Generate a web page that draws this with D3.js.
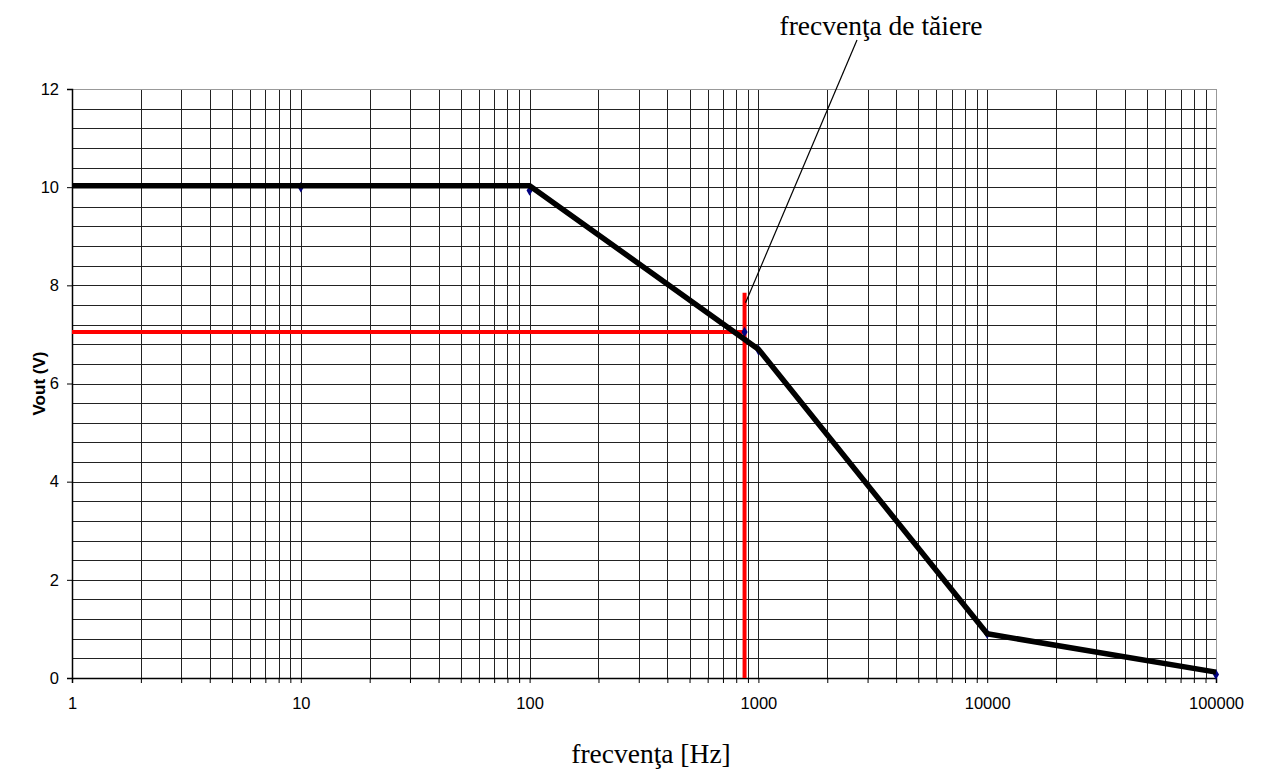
<!DOCTYPE html>
<html>
<head>
<meta charset="utf-8">
<script src="https://cdn.jsdelivr.net/npm/d3@7"></script>
<style>
  body { margin: 0; background: #fff; }
  svg { display: block; }
</style>
</head>
<body>
<div id="chart"></div>
<script>
// measured points (blue diamonds)
const pointFreq = [10, 100, 870, 1000, 10000, 100000];
const pointVout = [10.0, 9.93, 7.05, 6.68, 0.9, 0.07];

// thick black trend line
const lineFreq = [1, 100, 1000, 10000, 100000];
const lineVout = [10.03, 10.03, 6.7, 0.9, 0.12];

// cutoff marker
const cutoffFreq = 870;
const cutoffVout = 7.05;
const cutoffTop = 7.85;

const xTicks = [1, 10, 100, 1000, 10000, 100000];
const yTicks = [0, 2, 4, 6, 8, 10, 12];

const margin = { top: 89, right: 47, bottom: 103, left: 72 };
const W = 1263, H = 781;
const width = W - margin.left - margin.right;
const height = H - margin.top - margin.bottom;

const svg = d3.select('#chart').append('svg')
    .attr('width', W)
    .attr('height', H);

const g = svg.append('g')
    .attr('transform', `translate(${margin.left},${margin.top})`);

const x = d3.scaleLog().domain([1, 100000]).range([0, width]);
const y = d3.scaleLinear().domain([0, 12]).range([height, 0]);

// horizontal grid every 0.4
const hGrid = d3.range(0, 12.001, 0.4);
g.selectAll('.hgrid')
    .data(hGrid)
    .enter().append('line')
    .attr('x1', 0).attr('x2', width)
    .attr('y1', d => Math.round(y(d)) + 0.5)
    .attr('y2', d => Math.round(y(d)) + 0.5)
    .attr('stroke', '#222')
    .attr('stroke-width', 1);

// vertical log grid
const vGrid = [];
for (let e = 0; e < 5; e++) {
    for (let m = 1; m <= 9; m++) vGrid.push(m * Math.pow(10, e));
}
vGrid.push(100000);
g.selectAll('.vgrid')
    .data(vGrid)
    .enter().append('line')
    .attr('x1', d => Math.round(x(d)) + 0.5)
    .attr('x2', d => Math.round(x(d)) + 0.5)
    .attr('y1', 0).attr('y2', height)
    .attr('stroke', '#222')
    .attr('stroke-width', 1);

// border top/right in grey
g.append('line').attr('x1', 0).attr('x2', width).attr('y1', 0.5).attr('y2', 0.5)
    .attr('stroke', '#999');
g.append('line').attr('x1', width + 0.5).attr('x2', width + 0.5).attr('y1', 0).attr('y2', height)
    .attr('stroke', '#999');

// axes
const yAxis = g.append('g')
    .call(d3.axisLeft(y).tickValues(yTicks).tickSize(5).tickPadding(8));
const xAxis = g.append('g')
    .attr('transform', `translate(0,${height})`)
    .call(d3.axisBottom(x).tickValues(vGrid).tickSize(5).tickPadding(14)
        .tickFormat(d => xTicks.includes(d) ? d3.format('d')(d) : ''));

[xAxis, yAxis].forEach(a => {
    a.attr('font-size', null).attr('font-family', null);
    a.select('.domain').attr('stroke', '#000').attr('stroke-width', 1.5);
    a.selectAll('.tick line').attr('stroke', '#000');
    a.selectAll('text')
        .style('font-family', 'Liberation Sans, Arial, sans-serif')
        .style('font-size', '16.5px')
        .attr('fill', '#000');
});

// red cutoff lines
g.append('line')
    .attr('x1', 0).attr('x2', x(cutoffFreq))
    .attr('y1', y(cutoffVout)).attr('y2', y(cutoffVout))
    .attr('stroke', '#ff0000').attr('stroke-width', 4);
g.append('line')
    .attr('x1', x(cutoffFreq)).attr('x2', x(cutoffFreq))
    .attr('y1', y(0)).attr('y2', y(cutoffTop))
    .attr('stroke', '#ff0000').attr('stroke-width', 4);

// markers
const pts = pointFreq.map((f, i) => ({ f, v: pointVout[i] }));
g.selectAll('.pt')
    .data(pts)
    .enter().append('path')
    .attr('d', d3.symbol().type(d3.symbolDiamond).size(32))
    .attr('transform', d => `translate(${x(d.f)},${y(d.v)})`)
    .attr('fill', '#000080');

// black line
const lineData = lineFreq.map((f, i) => ({ f, v: lineVout[i] }));
g.append('path')
    .datum(lineData)
    .attr('fill', 'none')
    .attr('stroke', '#000')
    .attr('stroke-width', 5.5)
    .attr('stroke-linejoin', 'round')
    .attr('d', d3.line().x(d => x(d.f)).y(d => y(d.v)));

// annotation pointer
g.append('line')
    .attr('x1', x(cutoffFreq) + 1).attr('y1', y(cutoffTop) + 10)
    .attr('x2', 857 - margin.left).attr('y2', 40 - margin.top)
    .attr('stroke', '#000').attr('stroke-width', 1.2);

svg.append('text')
    .attr('x', 881).attr('y', 35)
    .attr('text-anchor', 'middle')
    .style('font-family', 'Liberation Serif, Times New Roman, serif')
    .style('font-size', '27.5px')
    .text('frecvenţa de tăiere');

svg.append('text')
    .attr('x', 651).attr('y', 763)
    .attr('text-anchor', 'middle')
    .style('font-family', 'Liberation Serif, Times New Roman, serif')
    .style('font-size', '27.5px')
    .text('frecvenţa [Hz]');

svg.append('text')
    .attr('transform', `translate(45,${margin.top + height / 2}) rotate(-90)`)
    .attr('text-anchor', 'middle')
    .style('font-family', 'Liberation Sans, Arial, sans-serif')
    .style('font-size', '17px')
    .style('font-weight', 'bold')
    .text('Vout (V)');
</script>
</body>
</html>
